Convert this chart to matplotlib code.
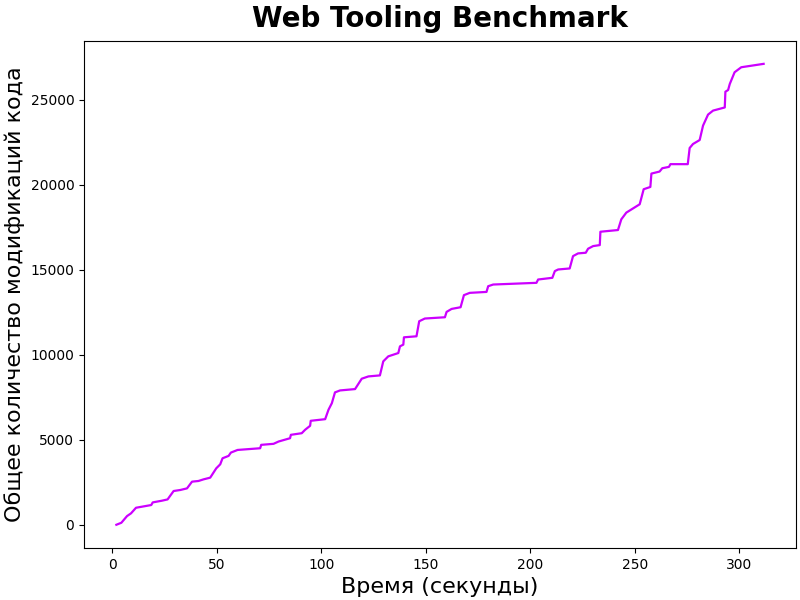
import matplotlib
matplotlib.use("Agg")
import matplotlib.pyplot as plt

time_s = [1.9, 4.3, 7.0, 8.9, 11.3, 18.6, 19.3, 23.7, 26.4, 29.3, 32.5, 35.7,
          38.1, 41.2, 43.6, 46.8, 49.7, 51.6, 52.7, 55.6, 56.7, 59.9, 70.7, 71.2,
          77.1, 79.5, 85.0, 85.4, 90.6, 92.2, 94.6, 94.9, 101.8, 103.4, 105.0,
          106.5, 108.9, 116.1, 119.3, 122.5, 128.0, 129.6, 132.0, 136.8, 137.6,
          139.2, 139.5, 145.5, 146.8, 149.5, 159.1, 159.9, 162.3, 166.6, 168.2,
          171.0, 179.0, 179.8, 182.2, 202.9, 203.7, 210.5, 211.7, 213.3, 218.8,
          220.4, 222.8, 226.5, 227.6, 230.0, 233.2, 233.5, 241.9, 243.5, 245.9,
          252.3, 254.2, 257.4, 257.9, 261.8, 263.1, 266.3, 267.0, 275.3, 276.2,
          277.8, 281.0, 282.6, 285.0, 287.4, 293.0, 293.3, 294.6, 295.4, 297.7,
          300.9, 311.6]
total_mods = [0, 118, 510, 670, 1000, 1160, 1315, 1415, 1490, 1985, 2045, 2140,
              2535, 2575, 2670, 2770, 3320, 3555, 3910, 4050, 4245, 4400, 4500, 4700,
              4760, 4895, 5090, 5290, 5385, 5585, 5820, 6115, 6210, 6765, 7150,
              7785, 7900, 7980, 8590, 8725, 8785, 9610, 9905, 10100, 10495,
              10595, 11025, 11085, 11970, 12130, 12205, 12520, 12695, 12795, 13505,
              13640, 13695, 14030, 14130, 14230, 14425, 14525, 14920, 15015, 15075,
              15800, 15960, 16000, 16235, 16390, 16450, 17235, 17335, 17965, 18360,
              18850, 19735, 19870, 20655, 20775, 20970, 21050, 21210, 21210, 22160,
              22395, 22630, 23475, 24125, 24360, 24545, 25470, 25570, 25925, 26615,
              26910, 27110]

title = "Web Tooling Benchmark"
xlabel = "Время (секунды)"
ylabel = "Общее количество модификаций кода"

fig, ax = plt.subplots(figsize=(8, 6), dpi=100)
fig.subplots_adjust(left=0.105, right=0.995, top=0.932, bottom=0.087)
ax.plot(time_s, total_mods, color="#cc00ff", linewidth=1.6)
ax.set_title(title, fontsize=20, fontweight="bold", pad=10)
ax.set_xlabel(xlabel, fontsize=16)
ax.set_ylabel(ylabel, fontsize=16)
fig.savefig("out.png", dpi=100)
